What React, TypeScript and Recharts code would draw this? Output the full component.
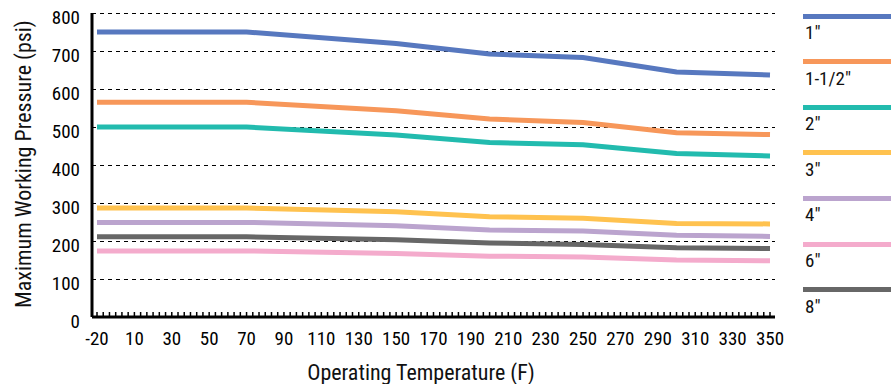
import React from 'react';
import { LineChart, Line, XAxis, YAxis, CartesianGrid } from 'recharts';

// Category axis: Excel-style categories (-20, then 0..350 every 10)
const temperatureCategories = [
  -20, 0, 10, 20, 30, 40, 50, 60, 70, 80, 90, 100, 110, 120, 130, 140, 150, 160, 170,
  180, 190, 200, 210, 220, 230, 240, 250, 260, 270, 280, 290, 300, 310, 320, 330, 340, 350,
];

// Temperatures where the rating values are given
const keyTemperatures = [-20, 70, 150, 200, 250, 300, 350];

const pressure1in = [750, 750, 720, 692, 683, 645, 637];
const pressure1_5in = [565, 565, 543, 521, 512, 485, 480];
const pressure2in = [500, 500, 479, 459, 453, 430, 424];
const pressure3in = [287, 287, 277, 264, 260, 246, 245];
const pressure4in = [249, 249, 240, 229, 226, 215, 212];
const pressure6in = [174, 174, 167, 160, 158, 150, 148];
const pressure8in = [211, 211, 203, 195, 191, 182, 180];

const seriesNames = ['1"', '1-1/2"', '2"', '3"', '4"', '6"', '8"'];
const seriesValues = [
  pressure1in,
  pressure1_5in,
  pressure2in,
  pressure3in,
  pressure4in,
  pressure6in,
  pressure8in,
];
const seriesColors = ['#5778BF', '#F7975A', '#22BBAE', '#FFC24F', '#BBA4CE', '#F4ABCC', '#676767'];

const yTicks = [0, 100, 200, 300, 400, 500, 600, 700, 800];

const FONT = "'Liberation Sans Narrow', 'Roboto Condensed', 'DejaVu Sans Condensed', 'Liberation Sans', sans-serif";

const data = temperatureCategories.map((t) => {
  const row: Record<string, number | null> = { temp: t };
  const k = keyTemperatures.indexOf(t);
  seriesValues.forEach((vals, si) => {
    row['s' + si] = k >= 0 ? vals[k] : null;
  });
  return row;
});

const CHART_W = 891;
const CHART_H = 384;
const PLOT_LEFT = 92;
const PLOT_RIGHT = 775;
const X_PAD = 5;
const CAT_STEP = (PLOT_RIGHT - X_PAD - (PLOT_LEFT + X_PAD)) / (temperatureCategories.length - 1);

const XTick = (props: any) => {
  const { x, y, payload, index } = props;
  const i = typeof index === 'number' ? index : payload?.index ?? 0;
  const last = i === temperatureCategories.length - 1;
  const marks = last ? [0] : [0, 1, 2];
  return (
    <g>
      {marks.map((j) => (
        <line
          key={j}
          x1={x + (j * CAT_STEP) / 3}
          x2={x + (j * CAT_STEP) / 3}
          y1={y - 5}
          y2={y}
          stroke="#000"
          strokeWidth={1.5}
        />
      ))}
      {i % 2 === 0 ? (
        <text
          x={x}
          y={y + 21}
          textAnchor="middle"
          dominantBaseline="central"
          fontFamily={FONT}
          fontSize={19}
          fill="#000"
        >
          {payload.value}
        </text>
      ) : null}
    </g>
  );
};

const YTick = (props: any) => {
  const { x, y, payload } = props;
  return (
    <text
      x={x - 12}
      y={y + 4}
      textAnchor="end"
      dominantBaseline="central"
      fontFamily={FONT}
      fontSize={19}
      fill="#000"
    >
      {payload.value}
    </text>
  );
};

const GridLine = (props: any) => {
  const { x1, x2, y1, y2, index } = props;
  return (
    <line
      key={'g' + index}
      x1={x1}
      x2={x2}
      y1={Math.round(y1) + 0.5}
      y2={Math.round(y2) + 0.5}
      stroke="#000"
      strokeWidth={1}
      strokeDasharray="4 4"
    />
  );
};

export default function App() {
  return (
    <div
      style={{
        position: 'absolute',
        left: 0,
        top: 0,
        width: CHART_W,
        height: CHART_H,
        background: '#fff',
        fontFamily: FONT,
      }}
    >
      <LineChart
        width={CHART_W}
        height={CHART_H}
        data={data}
        margin={{ top: 13, right: CHART_W - PLOT_RIGHT, left: 0, bottom: 0 }}
      >
        <CartesianGrid horizontal={GridLine} vertical={false} />
        <XAxis
          dataKey="temp"
          type="category"
          interval={0}
          height={CHART_H - 317}
          padding={{ left: X_PAD, right: X_PAD }}
          axisLine={{ stroke: '#000', strokeWidth: 3 }}
          tickLine={false}
          tickSize={0}
          tickMargin={0}
          tick={<XTick />}
        />
        <YAxis
          type="number"
          domain={[0, 800]}
          ticks={yTicks}
          width={PLOT_LEFT}
          axisLine={{ stroke: '#000', strokeWidth: 3 }}
          tickLine={false}
          tickSize={0}
          tickMargin={0}
          tick={<YTick />}
        />
        {seriesNames.map((name, si) => (
          <Line
            key={name}
            name={name}
            type="linear"
            dataKey={'s' + si}
            stroke={seriesColors[si]}
            strokeWidth={5}
            dot={false}
            activeDot={false}
            connectNulls
            isAnimationActive={false}
          />
        ))}
      </LineChart>

      {/* Y axis title */}
      <div
        style={{
          position: 'absolute',
          left: 24,
          top: 164,
          transform: 'translate(-50%, -50%) rotate(-90deg)',
          whiteSpace: 'nowrap',
          fontSize: 22,
          color: '#111',
          lineHeight: 1,
        }}
      >
        Maximum Working Pressure (psi)
      </div>

      {/* X axis title */}
      <div
        style={{
          position: 'absolute',
          left: 421,
          top: 373,
          transform: 'translate(-50%, -50%)',
          whiteSpace: 'nowrap',
          fontSize: 22,
          color: '#111',
          lineHeight: 1,
        }}
      >
        Operating Temperature (F)
      </div>

      {/* Legend */}
      {seriesNames.map((name, si) => (
        <div key={name}>
          <div
            style={{
              position: 'absolute',
              left: 803,
              top: 16 + si * 45.6 - 2.5,
              width: 88,
              height: 5,
              background: seriesColors[si],
            }}
          />
          <div
            style={{
              position: 'absolute',
              left: 805,
              top: 16 + si * 45.6 + 16,
              transform: 'translateY(-50%)',
              fontSize: 19,
              lineHeight: 1,
              color: '#111',
              whiteSpace: 'nowrap',
            }}
          >
            {name}
          </div>
        </div>
      ))}
    </div>
  );
}
